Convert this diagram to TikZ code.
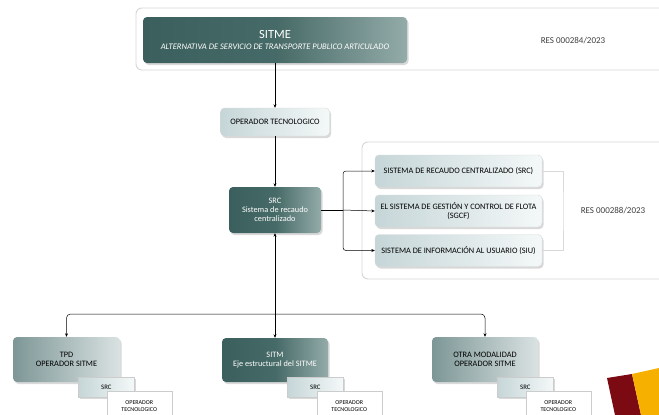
\documentclass[tikz,border=0pt]{standalone}
\usepackage{fontspec}
\setmainfont{Carlito}
\usetikzlibrary{positioning,arrows.meta,shadows}
\definecolor{tealD}{HTML}{3B5F5D}
\definecolor{tealM}{HTML}{466A67}
\definecolor{tealL}{HTML}{93ABA9}
\definecolor{liteL}{HTML}{C6D6D8}
\definecolor{liteR}{HTML}{F4F8F8}
\definecolor{greyL}{HTML}{7D9796}
\definecolor{greyR}{HTML}{DAE2E2}
\definecolor{frmc}{HTML}{D6D6D6}
\definecolor{redD}{HTML}{7B0A12}
\definecolor{orng}{HTML}{F6B000}
\tikzset{
  shd/.style={drop shadow={opacity=0.3, shadow xshift=1.5pt, shadow yshift=-2pt}},
  dbox/.style={rounded corners=4pt, left color=tealD, right color=tealL, middle color=tealM, text=white, shd, align=center, inner sep=2pt},
  lbox/.style={rounded corners=4pt, draw=gray!30, left color=liteL, right color=liteR, shd, align=center, inner sep=2pt},
  gbox/.style={rounded corners=4pt, left color=greyL, right color=greyR, shd, align=center, inner sep=2pt},
  sbox/.style={draw=gray!40, left color=liteL, right color=liteR, shd, minimum width=56pt, minimum height=20pt, font=\fontsize{6.8}{7}\selectfont},
  obox/.style={draw=gray!40, fill=white, shd, minimum width=65pt, minimum height=30pt, align=center, font=\fontsize{6}{7}\selectfont},
  frm/.style={draw=frmc, line width=0.9pt, rounded corners=6pt, fill=white},
  res/.style={font=\fontsize{9}{10}\selectfont, text=black!75},
  lnk/.style={draw, line width=0.5pt, -{Stealth[length=3.5pt, width=3pt]}}}

\begin{document}
\begin{tikzpicture}[x=1pt, y=-1pt, font=\fontsize{8.3}{9.3}\selectfont]
\useasboundingbox (0,0) rectangle (659,415);
\begin{scope}
\clip (0,0) rectangle (659,415);
\draw[frm] (136,8) rectangle (690,70);
\draw[frm] (362,142) rectangle (690,279);
\end{scope}
% top level
\node[dbox, minimum width=264pt, minimum height=46pt] (sitme) at (275,40) {{\fontsize{12.5}{13}\selectfont SITME}\\[1pt]\textit{\fontsize{8.5}{9}\selectfont ALTERNATIVA DE SERVICIO DE TRANSPORTE PUBLICO ARTICULADO}};
\node[res] (res1) at (573,41) {RES 000284/2023};
\node[lbox, minimum width=109pt, minimum height=28pt] (optec) at (275,122) {OPERADOR TECNOLOGICO};
\node[dbox, minimum width=92pt, minimum height=46pt] (src) at (275,210) {SRC\\Sistema de recaudo\\centralizado};
% systems
\node[lbox, minimum width=167pt, minimum height=32pt] (rc1) at (458.5,171) {SISTEMA DE RECAUDO CENTRALIZADO (SRC)};
\node[lbox, minimum width=167pt, minimum height=32pt] (rc2) at (458.5,211) {EL SISTEMA DE GESTIÓN Y CONTROL DE FLOTA\\(SGCF)};
\node[lbox, minimum width=167pt, minimum height=32pt] (rc3) at (458.5,250.5) {SISTEMA DE INFORMACIÓN AL USUARIO (SIU)};
\node[res] (res2) at (613,211) {RES 000288/2023};
% operators
\node[gbox, minimum width=107pt, minimum height=45pt] (tpd) at (66.5,359.5) {TPD\\OPERADOR SITME};
\node[sbox] (tsrc) [anchor=north west] at ([shift={(-42,-5)}]tpd.south east) {SRC};
\node[obox] (top) [anchor=north west] at ([shift={(-28,-7)}]tsrc.south east) {OPERADOR\\TECNOLOGICO};
\node[dbox, minimum width=106pt, minimum height=44pt] (sitm) at (275,360) {SITM\\Eje estructural del SITME};
\node[sbox] (ssrc) [anchor=north west] at ([shift={(-41,-5)}]sitm.south east) {SRC};
\node[obox] (sop) [anchor=north west] at ([shift={(-27,-7)}]ssrc.south east) {OPERADOR\\TECNOLOGICO};
\node[gbox, minimum width=106pt, minimum height=45pt] (otra) at (485,359.5) {OTRA MODALIDAD\\OPERADOR SITME};
\node[sbox] (osrc) [anchor=north west] at ([shift={(-41,-5)}]otra.south east) {SRC};
\node[obox] (oop) [anchor=north west] at ([shift={(-28,-7)}]osrc.south east) {OPERADOR\\TECNOLOGICO};
% links
\draw[lnk] (sitme) -- (optec);
\draw[lnk] (optec) -- (src);
\coordinate (fork) at (343,210);
\draw[line width=0.5pt] (src.east) -- (fork);
\draw[lnk, rounded corners=3pt] (fork) |- (rc1.west);
\draw[lnk] (fork) -- (rc2.west);
\draw[lnk, rounded corners=3pt] (fork) |- (rc3.west);
\coordinate (gb) at (563,211);
\draw[gray!30, line width=0.8pt] (rc1.east) -| (gb) |- (rc3.east);
\coordinate (hub) at (275,314);
\draw[lnk] (hub) -- (src);
\draw[lnk, rounded corners=4pt] (hub) -| (tpd.north);
\draw[lnk] (hub) -- (sitm);
\draw[lnk, rounded corners=4pt] (hub) -| (otra.north);
% corner mark
\fill[redD] (607,378) -- (632,374) -- (641,415) -- (615,415) -- cycle;
\fill[orng] (632,374) -- (659,368) -- (659,415) -- (641,415) -- cycle;
\end{tikzpicture}
\end{document}
